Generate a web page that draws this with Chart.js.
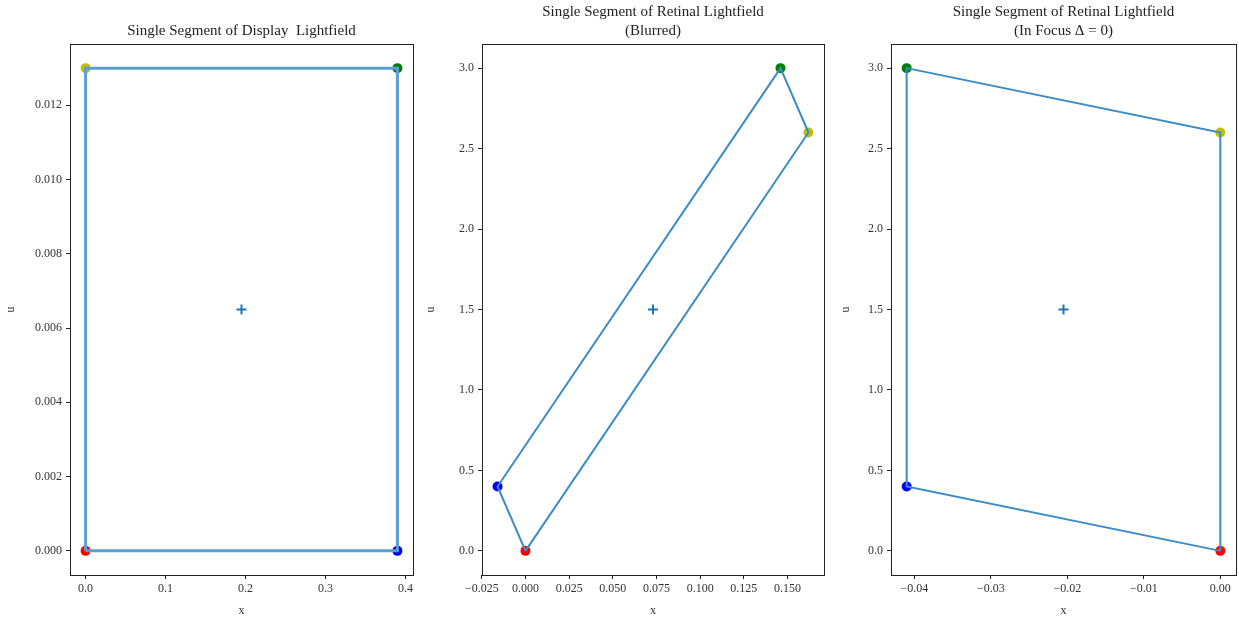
<!DOCTYPE html>
<html>
<head>
<meta charset="utf-8">
<script src="https://cdn.jsdelivr.net/npm/chart.js@4"></script>
<style>
  html, body { margin: 0; background: #fff; overflow: hidden; }
  #wrap { position: relative; width: 1239px; height: 622px; overflow: hidden; }
  canvas { position: absolute; top: 0; }
</style>
</head>
<body>
<div id="wrap">
  <canvas id="c1" width="420" height="622" style="left:0px;width:420px;height:622px"></canvas>
  <canvas id="c2" width="415" height="622" style="left:420px;width:415px;height:622px"></canvas>
  <canvas id="c3" width="408" height="622" style="left:835px;width:408px;height:622px"></canvas>
</div>
<script>
// 四隅の色 (赤, 青, 緑, 黄)
const cornerColors = ["#ff0000", "#0000ff", "#008000", "#bfbf00"];

// ディスプレイ光線場
const displayX = [0, 0.39, 0.39, 0];
const displayU = [0, 0, 0.013, 0.013];
const displayCenter = [0.195, 0.0065];

// 網膜光線場 (ぼけ)
const blurredX = [0, -0.016, 0.146, 0.162];
const blurredU = [0, 0.4, 3.0, 2.6];
const blurredCenter = [0.073, 1.5];

// 網膜光線場 (合焦)
const focusX = [0, -0.041, -0.041, 0];
const focusU = [0, 0.4, 3.0, 2.6];
const focusCenter = [-0.0205, 1.5];

// 目盛り
const displayXTicks = [0, 0.1, 0.2, 0.3, 0.4];
const displayUTicks = [0, 0.002, 0.004, 0.006, 0.008, 0.01, 0.012];
const blurredXTicks = [-0.025, 0, 0.025, 0.05, 0.075, 0.1, 0.125, 0.15];
const retinalUTicks = [0, 0.5, 1, 1.5, 2, 2.5, 3];
const focusXTicks = [-0.04, -0.03, -0.02, -0.01, 0];

const FONT = "'Liberation Serif', 'DejaVu Serif', serif";

function fmt(v, d) {
  const s = Math.abs(v).toFixed(d);
  return v < -1e-12 ? "\u2212" + s : s;
}

// 枠線とタイトル
const framePlugin = {
  id: "frame",
  afterDraw(chart) {
    const a = chart.chartArea;
    const ctx = chart.ctx;
    ctx.save();
    ctx.strokeStyle = "#222";
    ctx.lineWidth = 1;
    ctx.strokeRect(Math.round(a.left) + 0.5, Math.round(a.top) + 0.5,
      Math.round(a.right - a.left), Math.round(a.bottom - a.top));
    ctx.fillStyle = "#222";
    ctx.font = "15px " + FONT;
    ctx.textAlign = "center";
    ctx.textBaseline = "middle";
    const lines = chart.options.plugins.frame.title;
    const cx = (a.left + a.right) / 2;
    const y0 = 31 - (lines.length - 1) * 19;
    lines.forEach((t, i) => ctx.fillText(t, cx, y0 + i * 19));
    ctx.restore();
  },
};

function makeChart(id, cfg) {
  const pts = cfg.xs.map((x, i) => ({ x: x, y: cfg.us[i] }));
  const loop = pts.concat([pts[0]]);
  return new Chart(document.getElementById(id), {
    type: "scatter",
    data: {
      datasets: [
        {
          data: loop,
          showLine: true,
          borderColor: cfg.lineColor,
          borderWidth: cfg.lineWidth,
          pointRadius: 0,
          fill: false,
        },
        {
          data: [{ x: cfg.center[0], y: cfg.center[1] }],
          pointStyle: "cross",
          pointRadius: 5,
          borderColor: "#1f77b4",
          borderWidth: 2,
        },
        {
          data: pts,
          pointRadius: 5,
          backgroundColor: cornerColors,
          borderColor: cornerColors,
          borderWidth: 0,
        },
      ],
    },
    options: {
      responsive: false,
      animation: false,
      events: [],
      layout: { padding: { top: 44, right: cfg.padRight, left: 0, bottom: 0 } },
      plugins: {
        legend: { display: false },
        tooltip: { enabled: false },
        frame: { title: cfg.title },
      },
      scales: {
        x: {
          type: "linear",
          min: cfg.xMin,
          max: cfg.xMax,
          afterBuildTicks: (s) => { s.ticks = cfg.xTicks.map((v) => ({ value: v })); },
          afterFit: (s) => { s.height = 47; s.paddingLeft = 0; s.paddingRight = 0; },
          grid: { drawOnChartArea: false, drawTicks: true, tickLength: 4, color: "#222" },
          border: { display: false },
          ticks: {
            color: "#333",
            font: { family: FONT, size: 12 },
            padding: 3,
            maxRotation: 0,
            autoSkip: false,
            callback: (v) => fmt(v, cfg.xDec),
          },
          title: { display: true, text: "x", color: "#333", font: { family: FONT, size: 12 }, padding: { top: 0, bottom: 4 } },
        },
        y: {
          type: "linear",
          min: cfg.yMin,
          max: cfg.yMax,
          afterBuildTicks: (s) => { s.ticks = cfg.yTicks.map((v) => ({ value: v })); },
          afterFit: (s) => { s.width = cfg.yWidth; s.paddingTop = 0; s.paddingBottom = 0; },
          grid: { drawOnChartArea: false, drawTicks: true, tickLength: 4, color: "#222" },
          border: { display: false },
          ticks: {
            color: "#333",
            font: { family: FONT, size: 12 },
            padding: 4,
            autoSkip: false,
            callback: (v) => fmt(v, cfg.yDec),
          },
          title: { display: true, text: "u", color: "#333", font: { family: FONT, size: 12 }, padding: { top: 4, bottom: 0 } },
        },
      },
    },
    plugins: [framePlugin],
  });
}

makeChart("c1", {
  xs: displayX, us: displayU, center: displayCenter,
  title: ["Single Segment of Display  Lightfield"],
  xMin: -0.0195, xMax: 0.4095, yMin: -0.00065, yMax: 0.01365,
  xTicks: displayXTicks, yTicks: displayUTicks, xDec: 1, yDec: 3,
  yWidth: 70, padRight: 7, lineColor: "#5a9fd4", lineWidth: 3,
});

makeChart("c2", {
  xs: blurredX, us: blurredU, center: blurredCenter,
  title: ["Single Segment of Retinal Lightfield", "(Blurred)"],
  xMin: -0.0249, xMax: 0.1709, yMin: -0.15, yMax: 3.15,
  xTicks: blurredXTicks, yTicks: retinalUTicks, xDec: 3, yDec: 1,
  yWidth: 62, padRight: 11, lineColor: "#3b8cc6", lineWidth: 2,
});

makeChart("c3", {
  xs: focusX, us: focusU, center: focusCenter,
  title: ["Single Segment of Retinal Lightfield", "(In Focus \u0394 = 0)"],
  xMin: -0.04305, xMax: 0.00205, yMin: -0.15, yMax: 3.15,
  xTicks: focusXTicks, yTicks: retinalUTicks, xDec: 2, yDec: 1,
  yWidth: 56, padRight: 7, lineColor: "#3b8cc6", lineWidth: 2,
});
</script>
</body>
</html>
